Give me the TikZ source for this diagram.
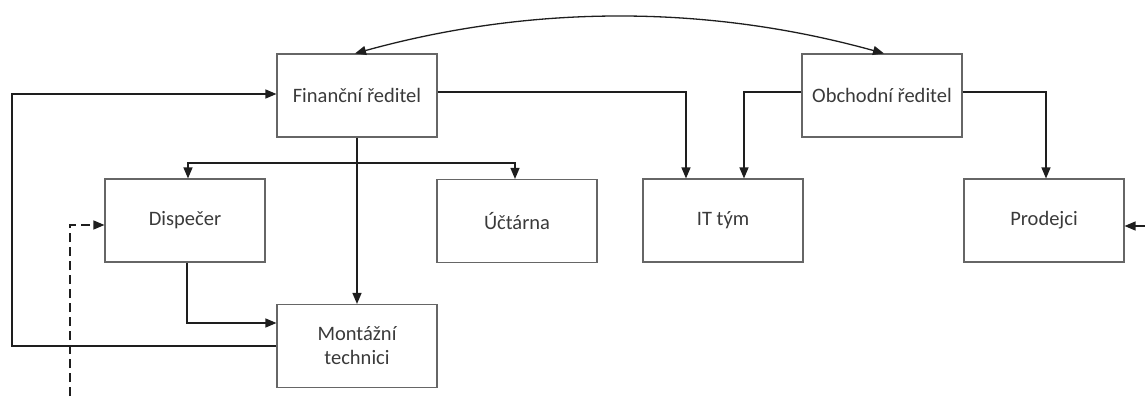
\documentclass[tikz,border=0pt]{standalone}
\usepackage{fontspec}
\setmainfont{Carlito}
\usetikzlibrary{arrows.meta,calc}
\definecolor{boxc}{HTML}{666666}
\definecolor{textc}{HTML}{3A3A3A}
\definecolor{linec}{HTML}{1E1E1E}
\tikzset{
  unit/.style={draw=boxc, line width=1.1pt, minimum width=160pt, minimum height=83pt,
    inner sep=0pt, text=textc, font=\fontsize{20.5}{24}\selectfont, align=center},
  conn/.style={draw=linec, line width=1.3pt, -{Triangle[length=11pt,width=9pt]}},
  bothconn/.style={draw=linec, line width=1.3pt, {Triangle[length=11pt,width=9pt]}-{Triangle[length=11pt,width=9pt]}},
  dashconn/.style={conn, dash pattern=on 9pt off 5pt}
}
\begin{document}
\begin{tikzpicture}[x=1pt,y=-1pt]
\useasboundingbox (0,0) rectangle (1145,396);
\node[unit] (fr) at (357,95.5) {Finanční ředitel};
\node[unit] (or) at (882,95.5) {Obchodní ředitel};
\node[unit] (disp) at (185,220.5) {Dispečer};
\node[unit] (uct) at (517,221) {Účtárna};
\node[unit] (it) at (723,220.5) {IT tým};
\node[unit] (prod) at (1044,220.5) {Prodejci};
\node[unit] (mont) at (357,346) {Montážní\\technici};
\coordinate (bus) at (357,163);
\coordinate (lc) at (12,94);
\coordinate (dstart) at (70,396);
\coordinate (rstart) at (1145,226);
% connectors
\draw[conn] (fr.south) -- (mont.north);
\draw[conn] (bus) -| ([xshift=3pt]disp.north);
\draw[conn] (bus) -| ([xshift=-2pt]uct.north);
\draw[conn] ([yshift=3.5pt]fr.east) -| ([xshift=-37pt]it.north);
\draw[conn] ([yshift=3.5pt]or.west) -| ([xshift=21pt]it.north);
\draw[conn] ([yshift=3.5pt]or.east) -| ([xshift=2pt]prod.north);
\draw[bothconn] ([xshift=-2pt]fr.north) .. controls +(177,-49) and +(-177,-49) .. ([xshift=2pt]or.north);
\draw[conn] (mont.west) -| (lc) -- ([yshift=1.5pt]fr.west);
\draw[conn] ([xshift=2pt]disp.south) |- ([yshift=23pt]mont.west);
\draw[dashconn] (dstart) |- ([yshift=-4.5pt]disp.west);
\draw[conn] (rstart) -- (prod.east |- rstart);
\end{tikzpicture}
\end{document}
